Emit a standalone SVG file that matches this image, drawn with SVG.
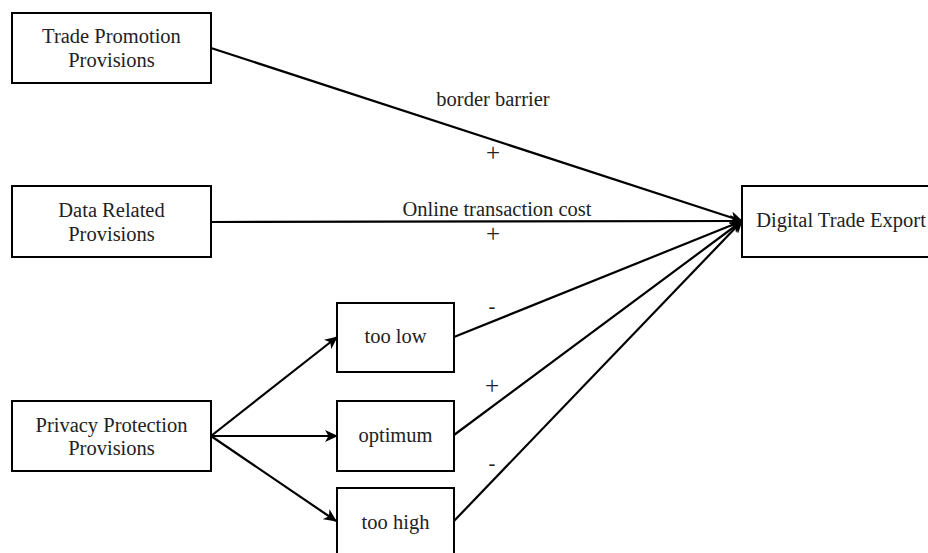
<svg xmlns="http://www.w3.org/2000/svg" width="928" height="553" viewBox="0 0 928 553">
<style>
.box{fill:#fff;stroke:#000;stroke-width:2}
.t{font-family:"Liberation Serif","Times New Roman",serif;font-size:20.5px;fill:#222;text-anchor:middle}
.s{font-size:25px}
.c{stroke:#000;stroke-width:2.2;fill:none}
</style>
<defs>
<marker id="ah" viewBox="0 0 13 12" refX="12" refY="6" markerWidth="13" markerHeight="12" markerUnits="userSpaceOnUse" orient="auto">
<path d="M0,0 L13,6 L0,12 L3.5,6 z" fill="#000"/>
</marker>
</defs>
<rect width="928" height="553" fill="#fff"/>
<g id="connectors">
<line class="c" x1="211" y1="48" x2="742" y2="221" marker-end="url(#ah)"/>
<line class="c" x1="211" y1="222" x2="742" y2="221" marker-end="url(#ah)"/>
<line class="c" x1="454" y1="337" x2="742" y2="221" marker-end="url(#ah)"/>
<line class="c" x1="454" y1="435" x2="742" y2="221" marker-end="url(#ah)"/>
<line class="c" x1="454" y1="521" x2="742" y2="221" marker-end="url(#ah)"/>
<line class="c" x1="211" y1="436" x2="337" y2="337" marker-end="url(#ah)"/>
<line class="c" x1="211" y1="436" x2="337" y2="436" marker-end="url(#ah)"/>
<line class="c" x1="211" y1="436" x2="336" y2="521" marker-end="url(#ah)"/>
<text class="t" x="493" y="106">border barrier</text>
<text class="t s" x="493" y="161">+</text>
<text class="t" x="497" y="216">Online transaction cost</text>
<text class="t s" x="493" y="242">+</text>
<text class="t" x="492" y="313">-</text>
<text class="t s" x="492" y="394">+</text>
<text class="t" x="492" y="470">-</text>
</g>
<g id="trade-promotion">
<rect class="box" x="12" y="13" width="199" height="70"/>
<text class="t" x="111.5" y="43">Trade Promotion</text>
<text class="t" x="111.5" y="67">Provisions</text>
</g>
<g id="data-related">
<rect class="box" x="12" y="186" width="199" height="71"/>
<text class="t" x="111.5" y="217">Data Related</text>
<text class="t" x="111.5" y="241">Provisions</text>
</g>
<g id="privacy-protection">
<rect class="box" x="12" y="401" width="199" height="70"/>
<text class="t" x="111.5" y="432">Privacy Protection</text>
<text class="t" x="111.5" y="455">Provisions</text>
</g>
<g id="too-low">
<rect class="box" x="337" y="303" width="117" height="69"/>
<text class="t" x="395.5" y="343">too low</text>
</g>
<g id="optimum">
<rect class="box" x="337" y="401" width="117" height="70"/>
<text class="t" x="395.5" y="442">optimum</text>
</g>
<g id="too-high">
<rect class="box" x="337" y="488" width="117" height="70"/>
<text class="t" x="395.5" y="529">too high</text>
</g>
<g id="digital-trade-export">
<rect class="box" x="742" y="186" width="199" height="71"/>
<text class="t" x="841" y="227">Digital Trade Export</text>
</g>
</svg>
